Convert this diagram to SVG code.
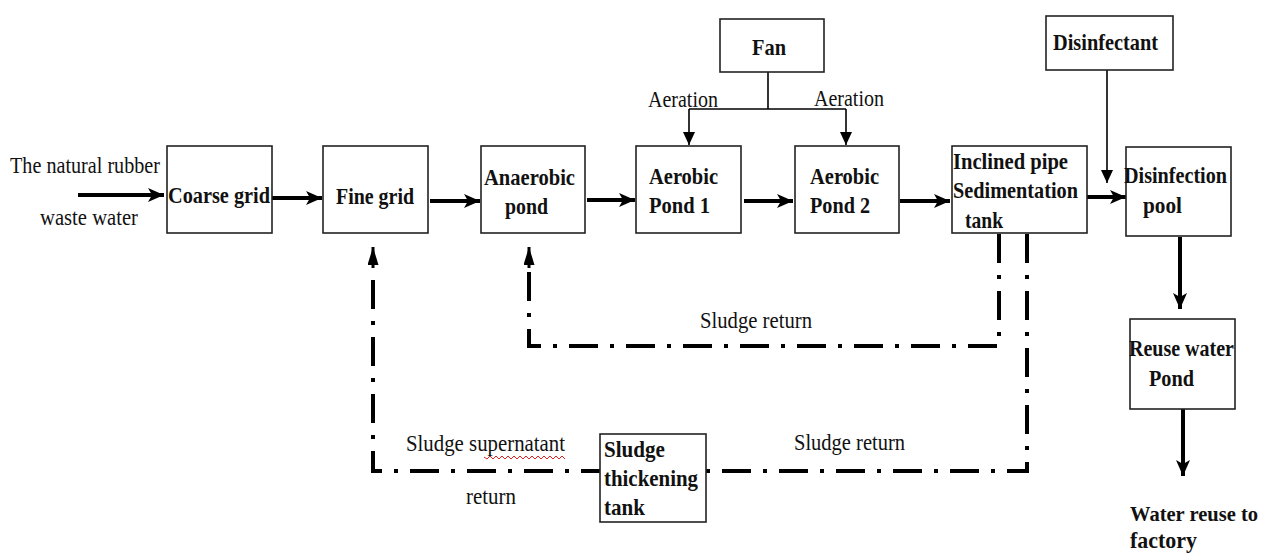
<svg xmlns="http://www.w3.org/2000/svg" width="1268" height="555" viewBox="0 0 1268 555">
<style>
.box{fill:#fff;stroke:#222;stroke-width:1.6}
.b{font-family:"Liberation Serif","Times New Roman",serif;font-weight:bold;font-size:24px;fill:#111}
.r{font-family:"Liberation Serif","Times New Roman",serif;font-size:23px;fill:#111}
.flow{stroke:#000;stroke-width:4;fill:none;marker-end:url(#ah)}
.thin{stroke:#000;stroke-width:1.6;fill:none}
.thinA{stroke:#000;stroke-width:1.6;fill:none;marker-end:url(#ahs)}
.dd{stroke:#000;stroke-width:4;fill:none;stroke-dasharray:29 12 4 12}
</style>
<defs>
<marker id="ah" markerUnits="userSpaceOnUse" markerWidth="18" markerHeight="14" refX="16" refY="7" orient="auto">
<path d="M0,0 L16,7 L0,14 L4,7 Z" fill="#000"/>
</marker>
<marker id="ahs" markerUnits="userSpaceOnUse" markerWidth="14" markerHeight="14" refX="13" refY="6" orient="auto">
<path d="M0,0 L13,6 L0,12 Z" fill="#000"/>
</marker>
<marker id="ahd" markerUnits="userSpaceOnUse" markerWidth="20" markerHeight="12" refX="18" refY="5.5" orient="auto">
<path d="M0,0 L18,5.5 L0,11 Z" fill="#000"/>
</marker>
</defs>

<g id="connectors">
<line class="flow" x1="78" y1="195" x2="164" y2="195"/>
<line class="flow" x1="272" y1="198" x2="322" y2="198"/>
<line class="flow" x1="430" y1="201" x2="480" y2="201"/>
<line class="flow" x1="587" y1="200" x2="635" y2="200"/>
<line class="flow" x1="744" y1="201" x2="793" y2="201"/>
<line class="flow" x1="900" y1="201" x2="950" y2="201"/>
<line class="flow" x1="1080" y1="197" x2="1126" y2="197"/>
<line class="flow" x1="1180" y1="237" x2="1180" y2="309"/>
<line class="flow" x1="1183" y1="409" x2="1183" y2="476"/>
<polyline class="thin" points="768,72 768,109"/>
<polyline class="thin" points="689,109 846,109"/>
<line class="thinA" x1="689" y1="109" x2="689" y2="145"/>
<line class="thinA" x1="846" y1="109" x2="846" y2="145"/>
<line class="thinA" x1="1107" y1="70" x2="1107" y2="183"/>
<polyline class="dd" points="999,234 999,346 529,346 529,268"/>
<line x1="529" y1="268" x2="529" y2="247" stroke="#000" stroke-width="3" marker-end="url(#ahd)"/>
<polyline class="dd" points="1027,234 1027,471 706,471"/>
<polyline class="dd" points="600,471 373,471 373,268" style="stroke-dashoffset:10"/>
<line x1="373" y1="268" x2="373" y2="247" stroke="#000" stroke-width="3" marker-end="url(#ahd)"/>
<polyline points="484,457 487,459 490,456 493,459 496,456 499,459 502,456 505,459 508,456 511,459 514,456 517,459 520,456 523,459 526,456 529,459 532,456 535,459 538,456 541,459 544,456 547,459 550,456 553,459 556,456 559,459 562,456 565,459" fill="none" stroke="#e02020" stroke-width="1"/>
</g>

<g id="labels">
<text class="r" x="10" y="173" textLength="150" lengthAdjust="spacingAndGlyphs">The natural rubber</text>
<text class="r" x="40" y="225" textLength="98" lengthAdjust="spacingAndGlyphs">waste water</text>
<text class="r" x="648" y="107" textLength="70" lengthAdjust="spacingAndGlyphs">Aeration</text>
<text class="r" x="814" y="106" textLength="70" lengthAdjust="spacingAndGlyphs">Aeration</text>
<text class="r" x="700" y="328" textLength="112" lengthAdjust="spacingAndGlyphs">Sludge return</text>
<text class="r" x="406" y="451" textLength="159" lengthAdjust="spacingAndGlyphs">Sludge supernatant</text>
<text class="r" x="466" y="504" textLength="50" lengthAdjust="spacingAndGlyphs">return</text>
<text class="r" x="794" y="450" textLength="111" lengthAdjust="spacingAndGlyphs">Sludge return</text>
<text class="b" x="1130" y="521" style="font-size:21px" textLength="128" lengthAdjust="spacingAndGlyphs">Water reuse to</text>
<text class="b" x="1130" y="548" textLength="67" lengthAdjust="spacingAndGlyphs">factory</text>
</g>

<g id="coarse-grid">
<rect class="box" x="167" y="146" width="105" height="87"/>
<text class="b" x="168" y="203" textLength="102" lengthAdjust="spacingAndGlyphs">Coarse grid</text>
</g>
<g id="fine-grid">
<rect class="box" x="323" y="146" width="105" height="87"/>
<text class="b" x="336" y="204" textLength="78" lengthAdjust="spacingAndGlyphs">Fine grid</text>
</g>
<g id="anaerobic-pond">
<rect class="box" x="481" y="146" width="104" height="87"/>
<text class="b" x="484" y="185" textLength="91" lengthAdjust="spacingAndGlyphs">Anaerobic</text>
<text class="b" x="505" y="214" textLength="43" lengthAdjust="spacingAndGlyphs">pond</text>
</g>
<g id="aerobic-pond-1">
<rect class="box" x="636" y="146" width="105" height="87"/>
<text class="b" x="649" y="184" textLength="69" lengthAdjust="spacingAndGlyphs">Aerobic</text>
<text class="b" x="649" y="213" textLength="61" lengthAdjust="spacingAndGlyphs">Pond 1</text>
</g>
<g id="aerobic-pond-2">
<rect class="box" x="795" y="146" width="104" height="87"/>
<text class="b" x="810" y="184" textLength="69" lengthAdjust="spacingAndGlyphs">Aerobic</text>
<text class="b" x="810" y="213" textLength="60" lengthAdjust="spacingAndGlyphs">Pond 2</text>
</g>
<g id="sedimentation-tank">
<rect class="box" x="952" y="146" width="135" height="87"/>
<text class="b" x="953" y="169" textLength="115" lengthAdjust="spacingAndGlyphs">Inclined pipe</text>
<text class="b" x="953" y="198" textLength="125" lengthAdjust="spacingAndGlyphs">Sedimentation</text>
<text class="b" x="965" y="228" textLength="38" lengthAdjust="spacingAndGlyphs">tank</text>
</g>
<g id="disinfection-pool">
<rect class="box" x="1126" y="147" width="105" height="89"/>
<text class="b" x="1124" y="183" textLength="103" lengthAdjust="spacingAndGlyphs">Disinfection</text>
<text class="b" x="1143" y="213" textLength="39" lengthAdjust="spacingAndGlyphs">pool</text>
</g>
<g id="fan">
<rect class="box" x="720" y="19" width="104" height="53"/>
<text class="b" x="752" y="55" textLength="34" lengthAdjust="spacingAndGlyphs">Fan</text>
</g>
<g id="disinfectant">
<rect class="box" x="1046" y="16" width="127" height="54"/>
<text class="b" x="1053" y="50" textLength="105" lengthAdjust="spacingAndGlyphs">Disinfectant</text>
</g>
<g id="reuse-water-pond">
<rect class="box" x="1130" y="319" width="105" height="90"/>
<text class="b" x="1129" y="356" textLength="105" lengthAdjust="spacingAndGlyphs">Reuse water</text>
<text class="b" x="1149" y="386" textLength="45" lengthAdjust="spacingAndGlyphs">Pond</text>
</g>
<g id="sludge-thickening-tank">
<rect class="box" x="600" y="434" width="106" height="88"/>
<text class="b" x="604" y="457" textLength="61" lengthAdjust="spacingAndGlyphs">Sludge</text>
<text class="b" x="604" y="486" textLength="94" lengthAdjust="spacingAndGlyphs">thickening</text>
<text class="b" x="604" y="515" textLength="41" lengthAdjust="spacingAndGlyphs">tank</text>
</g>
</svg>
